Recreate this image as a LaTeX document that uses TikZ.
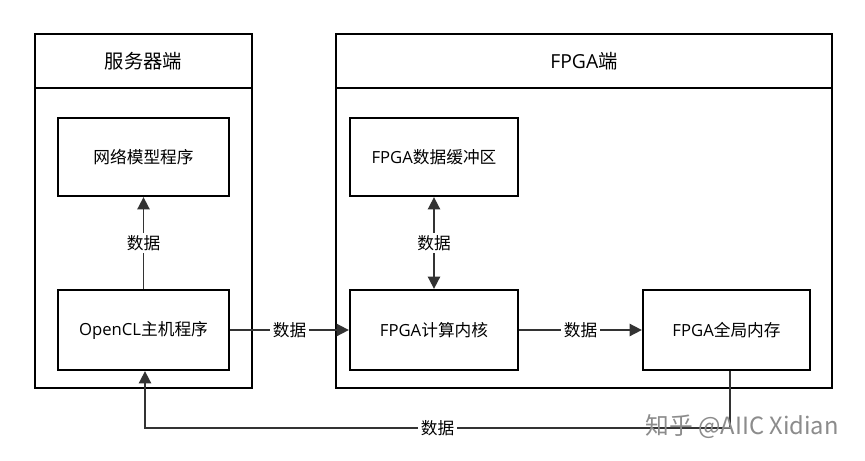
\documentclass[tikz,border=0pt]{standalone}
\usepackage{fontspec}
\setmainfont{Open Sans}
\newfontfamily\cjk{Noto Sans CJK SC}
\usetikzlibrary{arrows.meta}
\begin{document}
\begin{tikzpicture}[x=0.02cm,y=-0.02cm,
  box/.style={draw=black,line width=1.3pt,inner sep=0pt,font=\fontsize{9.5}{11}\selectfont},
  arr/.style={draw=black!80,line width=1pt,-{Triangle[length=7pt,width=7pt]}},
  lab/.style={fill=white,inner sep=1.5pt,font=\cjk\fontsize{9.5}{11}\selectfont}]
\useasboundingbox[fill=white] (0,0) rectangle (865,460);
% containers
\draw[line width=1.3pt] (35,34) rectangle (252,388);
\draw[line width=1.3pt] (35,88) -- (252,88);
\draw[line width=1.3pt] (336,34) rectangle (832,388);
\draw[line width=1.3pt] (336,88) -- (832,88);
\node[font=\cjk\fontsize{11}{13}\selectfont] (hl) at (143.5,61) {服务器端};
\node[font=\fontsize{11}{13}\selectfont] (hr) at (584,61) {FPGA{\cjk 端}};
% boxes
\node[box,minimum width=171*0.02cm,minimum height=78*0.02cm] (net) at (143.5,157) {\cjk 网络模型程序};
\node[box,minimum width=171*0.02cm,minimum height=80*0.02cm] (host) at (143.5,330) {OpenCL{\cjk 主机程序}};
\node[box,minimum width=168*0.02cm,minimum height=78*0.02cm] (buf) at (434,157) {FPGA{\cjk 数据缓冲区}};
\node[box,minimum width=168*0.02cm,minimum height=80*0.02cm] (ker) at (434,330) {FPGA{\cjk 计算内核}};
\node[box,minimum width=167*0.02cm,minimum height=80*0.02cm] (mem) at (726.5,330) {FPGA{\cjk 全局内存}};
% arrows
\draw[arr] (host) -- node[lab] {数据} (net);
\draw[arr] (host) -- node[lab] {数据} (ker);
\draw[arr] (ker) -- node[lab] {数据} (mem);
\draw[arr,{Triangle[length=7pt,width=7pt]}-{Triangle[length=7pt,width=7pt]}] (buf) -- node[lab] {数据} (ker);
\coordinate (c1) at (730,428);
\coordinate (c2) at (145,428);
\draw[arr] (mem.south -| c1) -- (c1) -- node[lab,pos=0.5] {数据} (c2) -- (host.south -| c2);
\node[text=black!45,font=\cjk\fontsize{13.5}{15}\selectfont,anchor=east] (wm) at (845,427) {知乎 @AIIC Xidian};
\end{tikzpicture}
\end{document}
